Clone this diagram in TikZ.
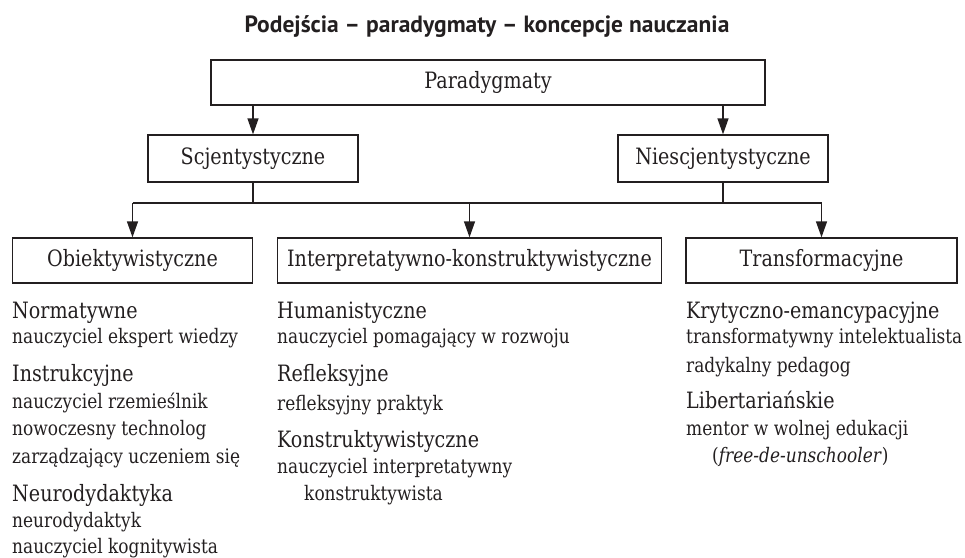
\documentclass[tikz,border=0pt]{standalone}
\usepackage{fontspec}
\setmainfont{DejaVu Serif}[FakeStretch=0.85]
\newfontfamily\titlefont{PT Sans}
\usetikzlibrary{arrows.meta}
\definecolor{ink}{HTML}{231F20}
\tikzset{
  box/.style={draw=ink, line width=1.3pt, inner sep=0pt, text=ink,
    font=\fontsize{22.5}{27}\selectfont},
  conn/.style={draw=ink, line width=1.3pt},
  arr/.style={conn, -{Triangle[length=16pt,width=11pt]}},
  head/.style={anchor=base west, inner sep=0pt, text=ink,
    font=\fontsize{22.5}{27}\selectfont},
  sub/.style={anchor=base west, inner sep=0pt, text=ink,
    font=\fontsize{20}{24}\selectfont},
}
\begin{document}
\begin{tikzpicture}[x=1pt,y=-1pt]
\useasboundingbox (0,0) rectangle (965,557);
\node[anchor=base, inner sep=0pt, text=ink, font=\titlefont\bfseries\fontsize{23.5}{28}\selectfont] (title) at (487,32) {Podejścia – paradygmaty – koncepcje nauczania};

\node[box, minimum width=554pt, minimum height=45pt] (para) at (488,82.5) {Paradygmaty};
\node[box, minimum width=210pt, minimum height=47pt] (scj) at (253,158.5) {Scjentystyczne};
\node[box, minimum width=210pt, minimum height=47pt] (nie) at (723,158.5) {Niescjentystyczne};

\node[box, minimum width=240pt, minimum height=45pt] (obj) at (132.5,260.5) {Obiektywistyczne};
\node[box, minimum width=384pt, minimum height=45pt] (int) at (469.5,260.5) {Interpretatywno-konstruktywistyczne};
\node[box, minimum width=271pt, minimum height=45pt] (tra) at (821.5,260.5) {Transformacyjne};

\coordinate (bus) at (0,203);
\draw[arr] (scj |- para.south) -- (scj.north);
\draw[arr] (nie |- para.south) -- (nie.north);
\draw[conn] (scj.south) -- (scj |- bus);
\draw[conn] (nie.south) -- (nie |- bus);
\draw[conn] (obj |- bus) -- (tra |- bus);
\draw[arr] (obj |- bus) -- (obj.north);
\draw[arr] (int |- bus) -- (int.north);
\draw[arr] (tra |- bus) -- (tra.north);

% left column
\node[head] (l1) at (12,318) {Normatywne};
\node[sub]  (l2) at (12,343) {nauczyciel ekspert wiedzy};
\node[head] (l3) at (12,381) {Instrukcyjne};
\node[sub]  (l4) at (12,408) {nauczyciel rzemieślnik};
\node[sub]  (l5) at (12,435) {nowoczesny technolog};
\node[sub]  (l6) at (12,463) {zarządzający uczeniem się};
\node[head] (l7) at (12,501) {Neurodydaktyka};
\node[sub]  (l8) at (12,527) {neurodydaktyk};
\node[sub]  (l9) at (12,553) {nauczyciel kognitywista};

% middle column
\node[head] (m1) at (277,318) {Humanistyczne};
\node[sub]  (m2) at (277,343) {nauczyciel pomagający w rozwoju};
\node[head] (m3) at (277,381) {Refleksyjne};
\node[sub]  (m4) at (277,410) {refleksyjny praktyk};
\node[head] (m5) at (277,447) {Konstruktywistyczne};
\node[sub]  (m6) at (277,473) {nauczyciel interpretatywny};
\node[sub]  (m7) at (304,500) {konstruktywista};

% right column
\node[head] (r1) at (686,318) {Krytyczno-emancypacyjne};
\node[sub]  (r2) at (686,343) {transformatywny intelektualista};
\node[sub]  (r3) at (686,372) {radykalny pedagog};
\node[head] (r4) at (686,408) {Libertariańskie};
\node[sub]  (r5) at (686,435) {mentor w wolnej edukacji};
\node[sub]  (r6) at (712,462) {(\textit{free-de-unschooler})};
\end{tikzpicture}
\end{document}
